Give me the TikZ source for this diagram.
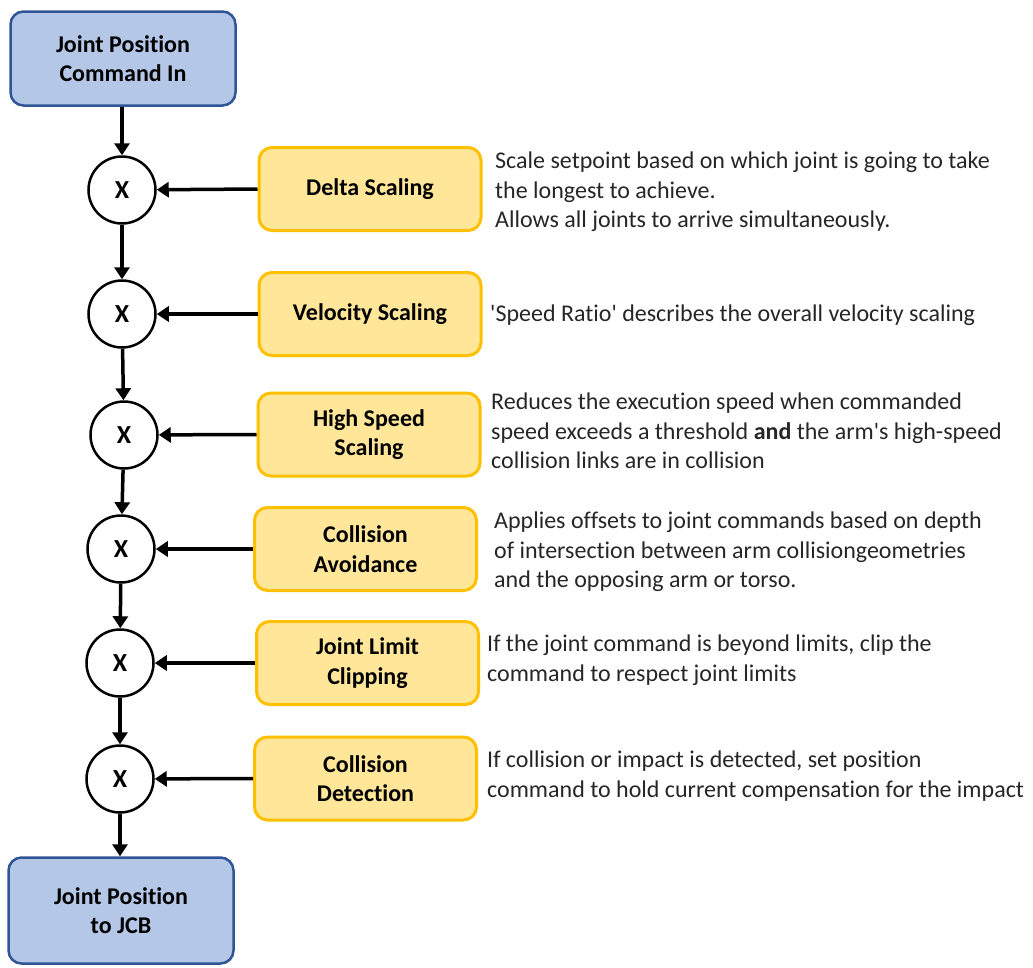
\documentclass[tikz,border=0pt]{standalone}
\usepackage{fontspec}
\setmainfont{Carlito}[Ligatures=NoCommon]
\usetikzlibrary{arrows.meta}
\definecolor{bluefill}{HTML}{B4C7E7}
\definecolor{blueline}{HTML}{2F5597}
\definecolor{yelfill}{HTML}{FFE699}
\definecolor{yelline}{HTML}{FFC000}
\definecolor{desctext}{HTML}{262626}
\begin{document}
\begin{tikzpicture}[x=1pt,y=-1pt,
  endbox/.style={draw=blueline, fill=bluefill, line width=2.5pt, rounded corners=13pt,
    minimum width=225pt, minimum height=94pt, align=center,
    font=\fontsize{24}{29.5}\selectfont\bfseries},
  stagebox/.style={draw=yelline, fill=yelfill, line width=3pt, rounded corners=13pt,
    minimum width=222pt, minimum height=83pt, align=center,
    font=\fontsize{24}{29.5}\selectfont\bfseries},
  mult/.style={circle, draw, line width=2.5pt, minimum size=67pt, inner sep=0pt,
    font=\fontsize{26}{30}\selectfont\bfseries},
  desc/.style={anchor=west, align=left, inner sep=0pt, text=desctext,
    font=\fontsize{24}{29.5}\selectfont},
  arr/.style={line width=3.5pt, -{Triangle[length=12pt,width=15pt]}}]

\useasboundingbox (0,0) rectangle (1033,967);

% input and output
\node[endbox] (cmdin) at (123,58.5) {Joint Position\\Command In};
\node[endbox, minimum height=106pt] (cmdout) at (121,910.5) {Joint Position\\to JCB};

% multiplier junctions
\node[mult] (m1) at (122,190) {X};
\node[mult] (m2) at (122,314) {X};
\node[mult] (m3) at (124,435) {X};
\node[mult] (m4) at (121,549) {X};
\node[mult] (m5) at (120,663) {X};
\node[mult] (m6) at (120,779) {X};

% scaling / limiting stages
\node[stagebox] (s1) at (370,189) {Delta Scaling};
\node[stagebox] (s2) at (370,314) {Velocity Scaling};
\node[stagebox] (s3) at (369,434.5) {High Speed\\Scaling};
\node[stagebox] (s4) at (365.5,549) {Collision\\Avoidance};
\node[stagebox] (s5) at (367.5,663) {Joint Limit\\Clipping};
\node[stagebox] (s6) at (365.5,778.5) {Collision\\Detection};

% descriptions
\node[desc] (t1) at (495,192) {Scale setpoint based on which joint is going to take\\the longest to achieve.\\Allows all joints to arrive simultaneously.};
\node[desc] (t2) at (490,315) {\textquotesingle Speed Ratio\textquotesingle{} describes the overall velocity scaling};
\node[desc] (t3) at (491,431) {Reduces the execution speed when commanded\\speed exceeds a threshold \textbf{and} the arm\textquotesingle s high-speed\\collision links are in collision};
\node[desc] (t4) at (494,552) {Applies offsets to joint commands based on depth\\of intersection between arm collisiongeometries\\and the opposing arm or torso.};
\node[desc] (t5) at (487,660) {If the joint command is beyond limits, clip the\\command to respect joint limits};
\node[desc] (t6) at (487,776) {If collision or impact is detected, set position\\command to hold current compensation for the impact};

% signal chain
\draw[arr] (cmdin.south -| m1) -- (m1.north);
\draw[arr] (m1) -- (m2);
\draw[arr] (m2) -- (m3);
\draw[arr] (m3) -- (m4);
\draw[arr] (m4) -- (m5);
\draw[arr] (m5) -- (m6);
\draw[arr] (m6.south) -- (m6.south |- cmdout.north);

% stage outputs into junctions
\foreach \i in {1,...,6} \draw[arr] (s\i.west) -- (m\i);
\end{tikzpicture}
\end{document}
